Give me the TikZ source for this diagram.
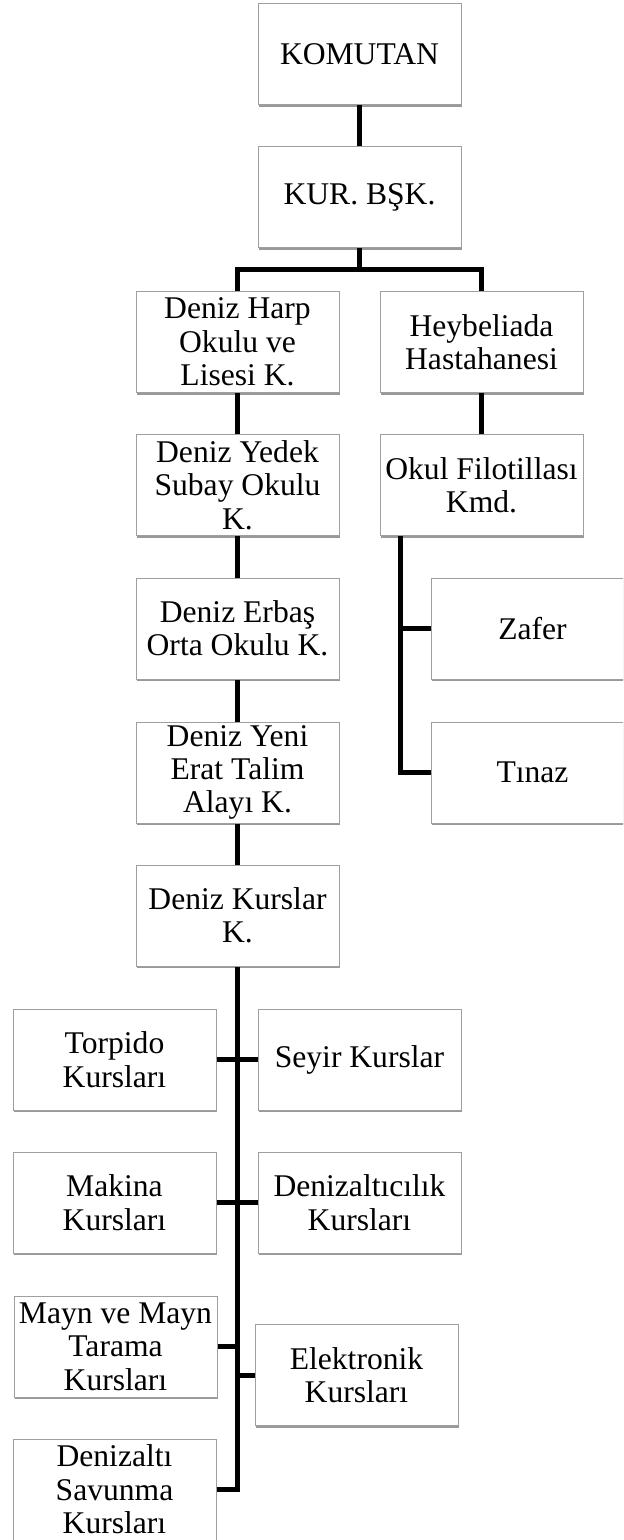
\documentclass[tikz,border=0pt]{standalone}
\usepackage{fontspec}
\setmainfont{Liberation Serif}
\usepackage{tikz}
\usetikzlibrary{calc, shadows}

\tikzset{
  unit/.style={draw=gray!75, line width=0.5pt, fill=white, minimum width=101.5pt, minimum height=50.5pt,
    inner sep=1pt, align=center, font=\fontsize{15.8}{16.7}\selectfont,
    drop shadow={shadow xshift=0.6pt, shadow yshift=-1.2pt, opacity=0.4, fill=black}},
  link/.style={line width=2.5pt, black}
}

\begin{document}
\begin{tikzpicture}[x=0.5pt, y=0.5pt]
          \clip (0,0) rectangle (623,-1540);
          \fill [white] (0,0) rectangle (623,-1540);

          \node [unit] (komutan) at (359.5,-54.5) {KOMUTAN}; % Draws a box
          \node [unit] (kurbsk) at (359.5,-197.5) {KUR. BŞK.}; % Draws a box

          \node [unit] (harp) at (237.5,-342) {Deniz Harp\\Okulu ve\\Lisesi K.}; % Draws a box
          \node [unit] (hastane) at (481.5,-342) {Heybeliada\\Hastahanesi}; % Draws a box

          \node [unit] (yedek) at (237.5,-485) {Deniz Yedek\\Subay Okulu\\K.}; % Draws a box
          \node [unit] (filotilla) at (481.5,-485) {Okul Filotillası\\Kmd.}; % Draws a box

          \node [unit] (erbas) at (237.5,-628.5) {Deniz Erbaş\\Orta Okulu K.}; % Draws a box
          \node [unit] (zafer) at (532.5,-628.5) {Zafer}; % Draws a box

          \node [unit] (erat) at (237.5,-772.5) {Deniz Yeni\\Erat Talim\\Alayı K.}; % Draws a box
          \node [unit] (tinaz) at (532.5,-772.5) {Tınaz}; % Draws a box

          \node [unit] (kurslar) at (237.5,-915.5) {Deniz Kurslar\\K.}; % Draws a box

          \node [unit] (torpido) at (114.5,-1059.5) {Torpido\\Kursları}; % Draws a box
          \node [unit] (seyir) at (359.5,-1059.5) {Seyir Kurslar}; % Draws a box
          \node [unit] (makina) at (114.5,-1202.5) {Makina\\Kursları}; % Draws a box
          \node [unit] (denizaltici) at (359.5,-1202.5) {Denizaltıcılık\\Kursları}; % Draws a box
          \node [unit] (mayn) at (115.5,-1346.5) {Mayn ve Mayn\\Tarama\\Kursları}; % Draws a box
          \node [unit] (elektronik) at (356.5,-1375) {Elektronik\\Kursları}; % Draws a box
          \node [unit] (savunma) at (114.5,-1489.5) {Denizaltı\\Savunma\\Kursları}; % Draws a box

          \coordinate (split) at ($(kurbsk.south)+(0,-21)$);
          \coordinate (okstem) at ($(filotilla.south)+(-81.5,0)$);

          \draw [link] (komutan) -- (kurbsk);
          \draw [link] (kurbsk.south) -- (split);
          \draw [link] (harp.north) |- (split) -| (hastane.north);

          \draw [link] (harp) -- (yedek);
          \draw [link] (yedek) -- (erbas);
          \draw [link] (erbas) -- (erat);
          \draw [link] (erat) -- (kurslar);
          \draw [link] (hastane) -- (filotilla);

          \draw [link] (okstem) |- (zafer.west);
          \draw [link] (okstem) |- (tinaz.west);

          \draw [link] (kurslar.south) |- (savunma.east);
          \draw [link] (torpido.east) -- (seyir.west);
          \draw [link] (makina.east) -- (denizaltici.west);
          \draw [link] (mayn.east) -- (mayn.east -| kurslar.south);
          \draw [link] (elektronik.west) -- (elektronik.west -| kurslar.south);
        \end{tikzpicture}
\end{document}
